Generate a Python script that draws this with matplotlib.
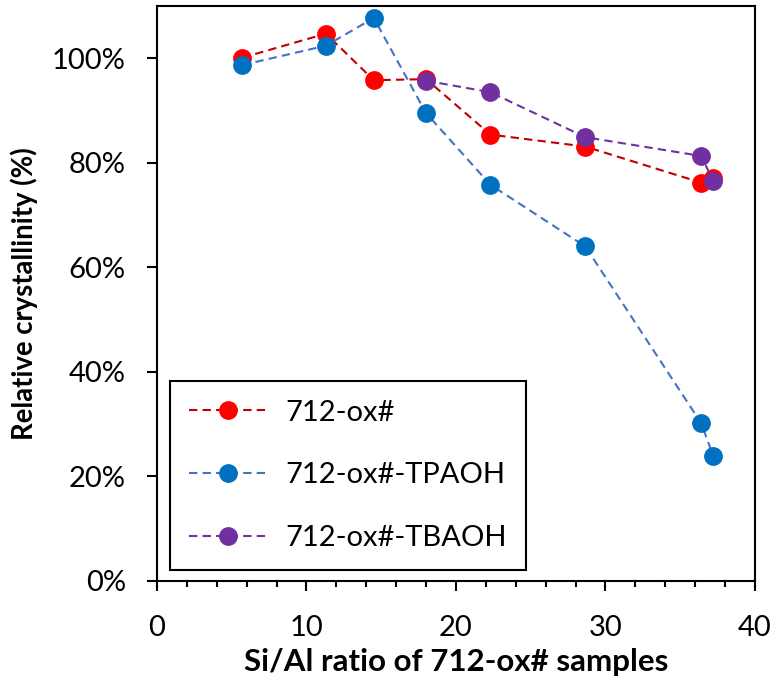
import numpy as np
import matplotlib.pyplot as plt
from matplotlib.ticker import MultipleLocator, PercentFormatter

plt.rcParams['font.family'] = ['Lato', 'DejaVu Sans']

# data
x_ox = [5.7, 11.3, 14.5, 18.0, 22.3, 28.65, 36.4, 37.2]
y_ox = [100.1, 104.7, 95.8, 96.0, 85.4, 83.1, 76.2, 77.1]

x_tpaoh = [5.7, 11.3, 14.5, 18.0, 22.3, 28.65, 36.4, 37.2]
y_tpaoh = [98.7, 102.4, 107.7, 89.5, 75.8, 64.0, 30.2, 24.0]

x_tbaoh = [18.0, 22.3, 28.65, 36.4, 37.2]
y_tbaoh = [95.7, 93.5, 84.9, 81.3, 76.6]

labels = ["712-ox#", "712-ox#-TPAOH", "712-ox#-TBAOH"]

fig = plt.figure(figsize=(7.78, 6.86), dpi=100)
ax = fig.add_axes([0.2018, 0.1531, 0.7686, 0.8382])

series = [
    (x_ox, y_ox, "#C00000", "#FF0000"),
    (x_tpaoh, y_tpaoh, "#4472C4", "#0070C0"),
    (x_tbaoh, y_tbaoh, "#7030A0", "#7030A0"),
]
for (xs, ys, lc, mc), lab in zip(series, labels):
    ax.plot(xs, ys, color=lc, lw=1.5, dashes=(4, 2.5),
            marker="o", ms=12.5, mfc=mc, mec=mc, label=lab)

ax.set_xlim(0, 40)
ax.set_ylim(0, 110)
ax.xaxis.set_major_locator(MultipleLocator(10))
ax.xaxis.set_minor_locator(MultipleLocator(2))
ax.yaxis.set_major_locator(MultipleLocator(20))
ax.yaxis.set_major_formatter(PercentFormatter(decimals=0))

ax.tick_params(axis="both", which="major", direction="out", length=7.5, width=1.5,
               labelsize=21)
ax.tick_params(axis="x", which="major", pad=17)
ax.tick_params(axis="y", which="major", pad=15)
ax.tick_params(axis="x", which="minor", direction="out", length=4.5, width=1.5)

for s in ax.spines.values():
    s.set_linewidth(1.5)
    s.set_color("black")

ax.set_xlabel("Si/Al ratio of 712-ox# samples", fontsize=22.5, fontweight="bold", labelpad=5)
ax.set_ylabel("Relative crystallinity (%)", fontsize=19.8, fontweight="bold", labelpad=10)

leg = ax.legend(loc="lower left", bbox_to_anchor=(0.022, 0.019), borderaxespad=0,
                fontsize=21, handlelength=2.7, handletextpad=0.6,
                labelspacing=1.26, borderpad=0.65, fancybox=False,
                edgecolor="black", framealpha=1)
leg.get_frame().set_linewidth(1.5)

fig.savefig("out.png", dpi=100)
